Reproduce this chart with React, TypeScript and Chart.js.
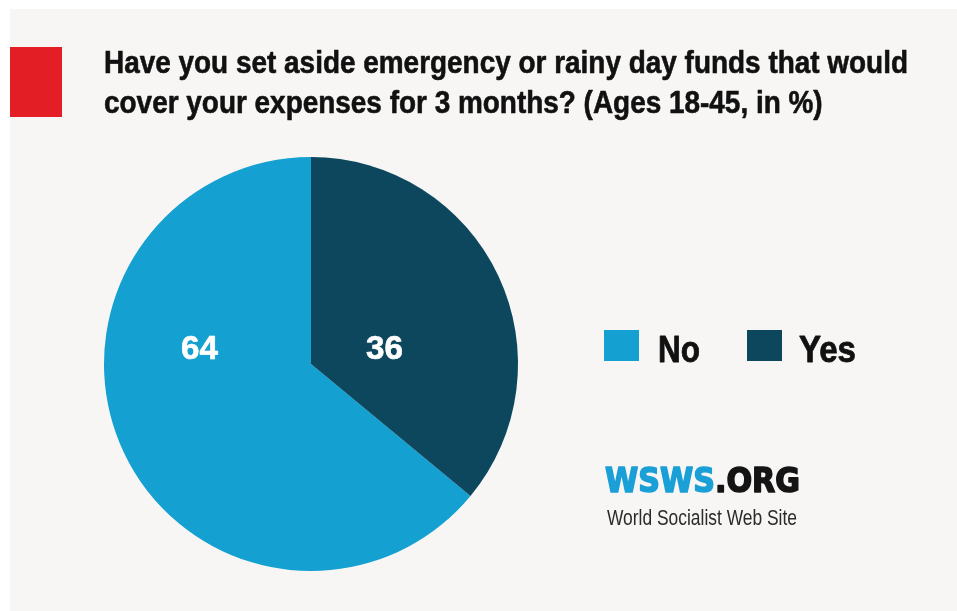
import React, { useEffect, useRef } from 'react';
import { Chart, registerables } from 'chart.js';

Chart.register(...registerables);

const categories = ['No', 'Yes'];
const values = [64, 36];
const sliceColors = ['#14a0d1', '#0c475d'];
const titleLines = [
  'Have you set aside emergency or rainy day funds that would',
  'cover your expenses for 3 months? (Ages 18-45, in %)',
];
const brandBlue = 'WSWS';
const brandDark = '.ORG';
const brandSub = 'World Socialist Web Site';

const SANS = '"Liberation Sans", Arial, Helvetica, sans-serif';
const WIDE = '"DejaVu Sans", "Liberation Sans", sans-serif';

function fitText(ctx: CanvasRenderingContext2D, text: string, x: number, y: number, font: string, width: number, color: string, stroke = 0) {
  ctx.save();
  ctx.font = font;
  ctx.fillStyle = color;
  ctx.strokeStyle = color;
  ctx.textBaseline = 'alphabetic';
  ctx.textAlign = 'left';
  const w = ctx.measureText(text).width;
  const s = width / w;
  ctx.translate(x, y);
  ctx.scale(s, 1);
  ctx.fillText(text, 0, 0);
  if (stroke > 0) {
    ctx.lineWidth = stroke;
    ctx.lineJoin = 'round';
    ctx.strokeText(text, 0, 0);
  }
  ctx.restore();
}

const decorPlugin = {
  id: 'decor',
  beforeDraw(chart: any) {
    const ctx: CanvasRenderingContext2D = chart.ctx;
    const W = chart.width;
    const H = chart.height;
    ctx.save();
    ctx.fillStyle = '#ffffff';
    ctx.fillRect(0, 0, W, H);
    ctx.fillStyle = '#f7f6f4';
    ctx.fillRect(10, 9, W - 10, H - 9);
    ctx.fillStyle = '#e31e25';
    ctx.fillRect(10, 47, 52, 70);
    ctx.restore();
    const titleFont = `bold 32px ${SANS}`;
    ctx.save();
    ctx.font = titleFont;
    const w1 = ctx.measureText(titleLines[0]).width;
    const w2 = ctx.measureText(titleLines[1]).width;
    ctx.restore();
    const s = 804 / w1;
    fitText(ctx, titleLines[0], 104, 73, titleFont, 804, '#111111', 0.6);
    fitText(ctx, titleLines[1], 104, 113, titleFont, w2 * s, '#111111', 0.6);
  },
  afterDraw(chart: any) {
    const ctx: CanvasRenderingContext2D = chart.ctx;
    const meta = chart.getDatasetMeta(0);
    const arc0 = meta.data[0];
    const cx = arc0.x;
    const cy = arc0.y;
    const r = arc0.outerRadius;
    const labelOffsets = [-0.539, 0.355];
    const numFont = `bold 33px ${SANS}`;
    values.forEach((v, i) => {
      const txt = String(v);
      const tw = 37;
      fitText(ctx, txt, cx + labelOffsets[i] * r - tw / 2, cy - 5, numFont, tw, '#ffffff', 0.6);
    });
    // legend
    const legendX = [604, 747];
    const legendTextX = [658, 799];
    const legendTextW = [42, 57];
    const legFont = `bold 37px ${SANS}`;
    categories.forEach((c, i) => {
      ctx.save();
      ctx.fillStyle = sliceColors[i];
      ctx.fillRect(legendX[i], 330, 35, 31);
      ctx.restore();
      fitText(ctx, c, legendTextX[i], 362, legFont, legendTextW[i], '#111111', 0.8);
    });
    // brand
    const brandFont = `bold 33px ${WIDE}`;
    ctx.save();
    ctx.font = brandFont;
    const bw1 = ctx.measureText(brandBlue).width;
    const bw2 = ctx.measureText(brandDark).width;
    ctx.restore();
    const total = 195;
    const k = total / (bw1 + bw2);
    fitText(ctx, brandBlue, 605, 492, brandFont, bw1 * k, '#1a9fd6', 1.6);
    fitText(ctx, brandDark, 605 + bw1 * k, 492, brandFont, bw2 * k, '#141414', 1.6);
    fitText(ctx, brandSub, 607, 525, `22px ${SANS}`, 190, '#2b2b2b');
  },
};

export default function App() {
  const ref = useRef<HTMLCanvasElement | null>(null);
  useEffect(() => {
    if (!ref.current) return;
    const sum = values.reduce((a, b) => a + b, 0);
    const chart = new Chart(ref.current, {
      type: 'pie',
      data: {
        labels: categories,
        datasets: [
          {
            data: values,
            backgroundColor: sliceColors,
            borderWidth: 0,
          },
        ],
      },
      options: {
        animation: false,
        responsive: false,
        events: [],
        rotation: (values[1] / sum) * 360,
        layout: { padding: { left: 104, right: 439, top: 157, bottom: 40 } },
        plugins: {
          legend: { display: false },
          tooltip: { enabled: false },
          title: { display: false },
        },
      },
      plugins: [decorPlugin],
    });
    return () => chart.destroy();
  }, []);
  return (
    <div style={{ position: 'absolute', left: 0, top: 0, width: 957, height: 611 }}>
      <canvas ref={ref} width={957} height={611} style={{ display: 'block', width: 957, height: 611 }} />
    </div>
  );
}
